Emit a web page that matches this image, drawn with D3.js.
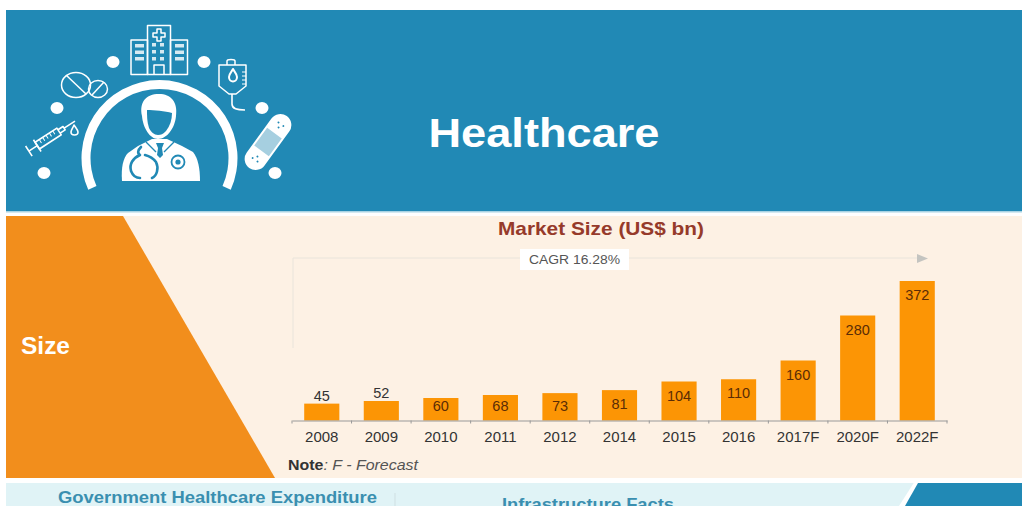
<!DOCTYPE html>
<html>
<head>
<meta charset="utf-8">
<script src="https://cdn.jsdelivr.net/npm/d3@7"></script>
<style>
html, body { margin: 0; padding: 0; background: #fff; overflow: hidden; }
svg { display: block; font-family: "Liberation Sans", Arial, sans-serif; }
</style>
</head>
<body>
<div id="chart"></div>
<script>
const years = ["2008", "2009", "2010", "2011", "2012", "2014", "2015", "2016", "2017F", "2020F", "2022F"];
const marketSize = [45, 52, 60, 68, 73, 81, 104, 110, 160, 280, 372];
const outsideLabels = ["2008", "2009"];

const width = 1022;
const height = 506;

const svg = d3.select("#chart").append("svg")
    .attr("width", width)
    .attr("height", height);

// background panels
svg.append("rect").attr("x", 6).attr("y", 10).attr("width", 1016).attr("height", 201).attr("fill", "#2189b5");
svg.append("rect").attr("x", 6).attr("y", 211).attr("width", 1016).attr("height", 1.5).attr("fill", "#a9d3e3");
svg.append("rect").attr("x", 6).attr("y", 216).attr("width", 1016).attr("height", 262).attr("fill", "#fdf1e4");
svg.append("rect").attr("x", 6).attr("y", 483).attr("width", 1016).attr("height", 23).attr("fill", "#e0f3f6");
svg.append("path").attr("d", "M6,216L123,216L275,478L6,478Z").attr("fill", "#f28e1c");
svg.append("path").attr("d", "M915,481L1022,481L1022,506L899,506Z").attr("fill", "#fff");
svg.append("path").attr("d", "M918,483L1022,483L1022,506L905,506Z").attr("fill", "#2189b5");
svg.append("line").attr("x1", 395).attr("x2", 395).attr("y1", 493).attr("y2", 506).attr("stroke", "#cfdfe2");

// header text
svg.append("text").attr("x", 544).attr("y", 147).attr("text-anchor", "middle")
    .attr("font-size", 41).attr("font-weight", "bold").attr("fill", "#fff")
    .attr("textLength", 231).attr("lengthAdjust", "spacingAndGlyphs")
    .text("Healthcare");
svg.append("text").attr("x", 21).attr("y", 354)
    .attr("font-size", 23).attr("font-weight", "bold").attr("fill", "#fff")
    .attr("textLength", 49).attr("lengthAdjust", "spacingAndGlyphs")
    .text("Size");

// header icons
const icon = svg.append("g").attr("fill", "none").attr("stroke", "#fff").attr("stroke-linejoin", "round");

icon.append("path")
    .attr("transform", "translate(159.5,158)")
    .attr("fill", "#fff").attr("stroke", "none")
    .attr("d", d3.arc().innerRadius(69).outerRadius(78).startAngle(-1.99).endAngle(1.99)());

[[113, 62], [204, 62], [57, 108], [262, 108], [44, 173], [275, 173]].forEach(d => {
    icon.append("ellipse").attr("cx", d[0]).attr("cy", d[1]).attr("rx", 6.5).attr("ry", 6)
        .attr("fill", "#fff").attr("stroke", "none");
});

// doctor
const doc = icon.append("g").attr("stroke", "none");
doc.append("path").attr("fill", "#fff")
    .attr("d", "M122,181C121,168 123,158 128,153L138,146L152,139H167L182,146L193,152C198,158 200,168 200,181Z");
doc.append("path").attr("fill", "#fff")
    .attr("d", "M142,116C139,102 146,94 159,94C171,94 178,102 176,116C175,128 167,139 158,139C150,139 143,128 142,116Z");
doc.append("path").attr("fill", "#2189b5")
    .attr("d", "M147,110C154,110 165,111 172,113C172,120 170,126 166,131C163,134 161,135 158,135C154,135 151,132 149,128C147,122 147,116 147,110Z");
doc.append("path").attr("fill", "none").attr("stroke", "#2189b5").attr("stroke-width", 1.4)
    .attr("d", "M146,142L156,152M174,142L164,152");
doc.append("path").attr("fill", "#2189b5").attr("d", "M156,143H164L162,148L163,155L160,158L157,155L158,148Z");
doc.append("path").attr("fill", "none").attr("stroke", "#2189b5").attr("stroke-width", 2.6).attr("stroke-linecap", "round")
    .attr("d", "M141,147C138,150 137,153 140,155C133,158 129,164 131,171C133,176 136,178 140,178M152,178C157,176 159,168 156,162C153,158 149,156 145,155");
doc.append("circle").attr("cx", 178).attr("cy", 162).attr("r", 6.5).attr("fill", "none").attr("stroke", "#2189b5").attr("stroke-width", 1.8);
doc.append("circle").attr("cx", 178).attr("cy", 162).attr("r", 2.6).attr("fill", "#2189b5");

// hospital
const hosp = icon.append("g").attr("stroke-width", 1.5);
hosp.append("rect").attr("x", 147.5).attr("y", 25.5).attr("width", 23).attr("height", 49);
hosp.append("rect").attr("x", 131).attr("y", 40).attr("width", 16.5).attr("height", 34.5);
hosp.append("rect").attr("x", 170.5).attr("y", 40).attr("width", 17).attr("height", 34.5);
hosp.append("path").attr("d", "M157,29H161V33H165V37H161V41H157V37H153V33H157Z");
hosp.append("path").attr("d", "M154,74.5V65H164V74.5");
[[135, 44], [135, 50.5], [135, 57], [175, 44], [175, 50.5], [175, 57]].forEach(d => {
    hosp.append("rect").attr("x", d[0]).attr("y", d[1]).attr("width", 9).attr("height", 3.5)
        .attr("fill", "#d6e9f1").attr("stroke", "none");
});
[[152, 43], [160, 43], [152, 50], [160, 50], [152, 57], [160, 57]].forEach(d => {
    hosp.append("rect").attr("x", d[0]).attr("y", d[1]).attr("width", 4).attr("height", 3.5)
        .attr("fill", "#d6e9f1").attr("stroke", "none");
});

// pills
const pills = icon.append("g").attr("stroke-width", 1.5);
pills.append("ellipse").attr("cx", 76).attr("cy", 85).attr("rx", 14.5).attr("ry", 12.5);
pills.append("path").attr("d", "M66,75L86,94");
pills.append("ellipse").attr("cx", 98).attr("cy", 89).attr("rx", 9.5).attr("ry", 8.5);
pills.append("path").attr("d", "M92,95L104,82");

// iv bag
const iv = icon.append("g").attr("stroke-width", 1.5);
iv.append("path").attr("d", "M219,65H246V86L236,94H229L219,86Z");
iv.append("path").attr("d", "M227,65V61C227,59 235,59 235,61V65");
iv.append("path").attr("d", "M229,77C229,74 232,71 233,69C234,71 237,74 237,77C237,83 229,83 229,77Z").attr("stroke-width", 2);
iv.append("path").attr("d", "M246,72H242M246,76H242M246,80H242M246,84H242").attr("stroke-width", 1);
iv.append("path").attr("d", "M232,94V104C232,109 237,110 245,110").attr("stroke-width", 1.6);

// bandage
const band = icon.append("g").attr("transform", "translate(268,142) rotate(-54)");
band.append("rect").attr("x", -32).attr("y", -11).attr("width", 64).attr("height", 22).attr("rx", 11)
    .attr("fill", "#fff").attr("stroke", "none");
band.append("rect").attr("x", -11).attr("y", -9).attr("width", 22).attr("height", 18)
    .attr("fill", "#a6cfe0").attr("stroke", "none");
[[-22, -3], [-22, 3], [-18, 0], [22, -3], [22, 3], [18, 0]].forEach(d => {
    band.append("circle").attr("cx", d[0]).attr("cy", d[1]).attr("r", 1).attr("fill", "#2189b5").attr("stroke", "none");
});

// syringe
const syr = icon.append("g").attr("transform", "translate(49,138) rotate(-33)").attr("stroke-width", 1.6);
syr.append("rect").attr("x", -14).attr("y", -4).attr("width", 26).attr("height", 8);
syr.append("path").attr("d", "M-14,-7V7M-14,0H-24M-24,-6V6M12,-2L18,-2V2L12,2M18,0H31");
syr.append("path").attr("d", "M-9,-4V0M-5,-4V0M-1,-4V0M3,-4V0M7,-4V0").attr("stroke-width", 1);
icon.append("path").attr("stroke-width", 1.6)
    .attr("d", "M74,125C76,128 78,130 78,132C78,136 71,136 71,132C71,130 73,128 74,125Z");

// chart scales
const baseline = 420.5;
const x = d3.scaleBand().domain(years).range([292, 947]).paddingInner(0.41).paddingOuter(0.205);
const y = d3.scaleLinear().domain([0, 372]).range([baseline, 281]);

svg.append("text").attr("x", 601).attr("y", 235).attr("text-anchor", "middle")
    .attr("font-size", 19).attr("font-weight", "bold").attr("fill", "#963a2a")
    .attr("textLength", 206).attr("lengthAdjust", "spacingAndGlyphs")
    .text("Market Size (US$ bn)");

// cagr bracket
svg.append("path").attr("d", "M293,348V258H918").attr("fill", "none").attr("stroke", "#e9e4db").attr("stroke-width", 1);
svg.append("path").attr("d", "M917,254L928,258.5L917,263Z").attr("fill", "#c4c4c0");
svg.append("rect").attr("x", 520).attr("y", 249).attr("width", 109).attr("height", 21).attr("fill", "#fff");
svg.append("text").attr("x", 574.5).attr("y", 263.5).attr("text-anchor", "middle")
    .attr("font-size", 12.5).attr("fill", "#555")
    .attr("textLength", 91).attr("lengthAdjust", "spacingAndGlyphs")
    .text("CAGR 16.28%");

// bars
svg.append("g").selectAll("rect")
    .data(years)
    .join("rect")
    .attr("x", d => x(d))
    .attr("y", (d, i) => y(marketSize[i]))
    .attr("width", x.bandwidth())
    .attr("height", (d, i) => baseline - y(marketSize[i]))
    .attr("fill", "#fc9505");

// value labels
svg.append("g").selectAll("text")
    .data(years)
    .join("text")
    .attr("x", d => x(d) + x.bandwidth() / 2)
    .attr("y", (d, i) => outsideLabels.includes(d)
        ? y(marketSize[i]) - 3
        : Math.min(y(marketSize[i]) + 19, baseline - 10))
    .attr("text-anchor", "middle")
    .attr("font-size", 14.5)
    .attr("fill", d => outsideLabels.includes(d) ? "#333" : "#5b2c06")
    .text((d, i) => marketSize[i]);

// axis
const axis = svg.append("g")
    .attr("transform", `translate(0,${baseline})`)
    .call(d3.axisBottom(x).tickSize(0).tickPadding(11));
axis.select(".domain").attr("stroke", "#999").attr("stroke-width", 1);
axis.selectAll("text")
    .attr("font-family", "Liberation Sans, Arial, sans-serif")
    .attr("font-size", 15)
    .attr("fill", "#333");
axis.selectAll(".edge")
    .data(years.concat(""))
    .join("line")
    .attr("class", "edge")
    .attr("x1", (d, i) => 292 + i * x.step())
    .attr("x2", (d, i) => 292 + i * x.step())
    .attr("y2", 3)
    .attr("stroke", "#999");

// note
const note = svg.append("text").attr("x", 288).attr("y", 470).attr("font-size", 14.5).attr("fill", "#333")
    .attr("textLength", 130).attr("lengthAdjust", "spacingAndGlyphs");
note.append("tspan").attr("font-weight", "bold").text("Note");
note.append("tspan").attr("font-style", "italic").attr("fill", "#555").text(": F - Forecast");

// lower panel headings, cut off by the picture edge like the reference
svg.append("text").attr("x", 217.5).attr("y", 503).attr("text-anchor", "middle")
    .attr("font-size", 16.5).attr("font-weight", "bold").attr("fill", "#3a8fb0")
    .attr("textLength", 319).attr("lengthAdjust", "spacingAndGlyphs")
    .text("Government Healthcare Expenditure");
svg.append("text").attr("x", 588).attr("y", 510).attr("text-anchor", "middle")
    .attr("font-size", 16.5).attr("font-weight", "bold").attr("fill", "#3a8fb0")
    .attr("textLength", 172).attr("lengthAdjust", "spacingAndGlyphs")
    .text("Infrastructure Facts");
</script>
</body>
</html>
